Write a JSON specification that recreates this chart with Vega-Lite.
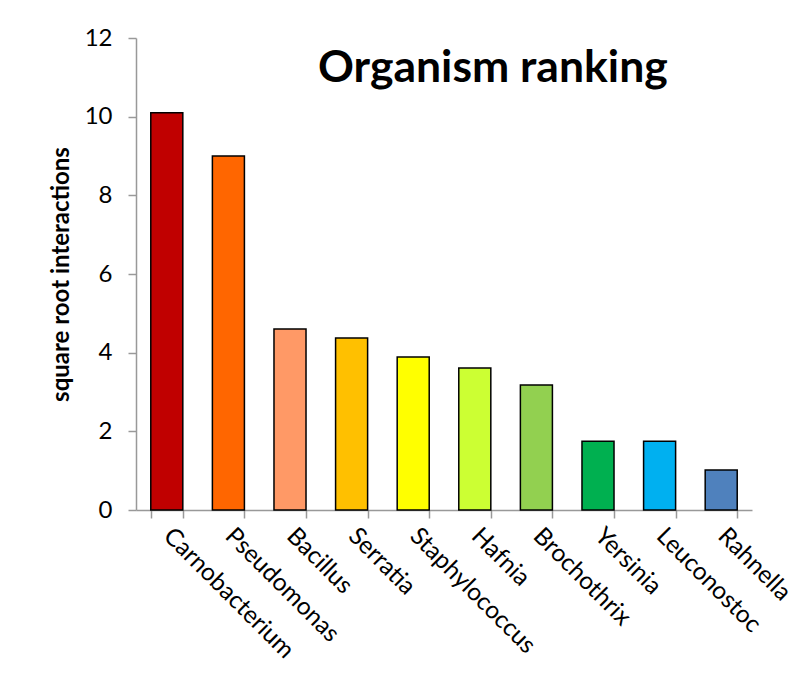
{
  "$schema": "https://vega.github.io/schema/vega-lite/v6.json",
  "autosize": "none",
  "padding": {"left": 136, "top": 38, "right": 44, "bottom": 174},
  "width": 616,
  "height": 472,
  "background": "white",
  "config": {"view": {"stroke": null}, "font": "Lato"},
  "title": {
    "text": "Organism ranking",
    "anchor": "start",
    "frame": "group",
    "offset": 0,
    "dx": 182,
    "dy": 100,
    "baseline": "alphabetic",
    "fontSize": 44.5,
    "fontWeight": "bold",
    "font": "Lato",
    "color": "black"
  },
  "data": {
    "values": [
      {"organism": "Carnobacterium", "value": 10.1, "color": "#C00000"},
      {"organism": "Pseudomonas", "value": 9.0, "color": "#FF6600"},
      {"organism": "Bacillus", "value": 4.6, "color": "#FF9966"},
      {"organism": "Serratia", "value": 4.37, "color": "#FFC000"},
      {"organism": "Staphylococcus", "value": 3.89, "color": "#FFFF00"},
      {"organism": "Hafnia", "value": 3.61, "color": "#CCFF33"},
      {"organism": "Brochothrix", "value": 3.18, "color": "#92D050"},
      {"organism": "Yersinia", "value": 1.75, "color": "#00B050"},
      {"organism": "Leuconostoc", "value": 1.75, "color": "#00B0F0"},
      {"organism": "Rahnella", "value": 1.02, "color": "#4F81BD"}
    ]
  },
  "mark": {"type": "bar", "stroke": "black", "strokeWidth": 1.5},
  "encoding": {
    "x": {
      "field": "organism",
      "type": "nominal",
      "sort": null,
      "scale": {"paddingInner": 0.48, "paddingOuter": 0.24},
      "axis": {
        "title": null,
        "labelAngle": 45,
        "labelAlign": "left",
        "labelBaseline": "middle",
        "labelFontSize": 24.5,
        "labelColor": "black",
        "labelPadding": 14,
        "tickBand": "extent",
        "tickSize": 8,
        "tickColor": "#999999",
        "domainColor": "#999999",
        "tickWidth": 1.5,
        "domainWidth": 1.5,
        "labelFont": "Lato"
      }
    },
    "y": {
      "field": "value",
      "type": "quantitative",
      "scale": {"domain": [0, 12]},
      "axis": {
        "title": "square root interactions",
        "titleFontSize": 24,
        "titleFontWeight": "bold",
        "titleColor": "black",
        "titlePadding": 11,
        "values": [0, 2, 4, 6, 8, 10, 12],
        "grid": false,
        "labelFontSize": 24,
        "labelColor": "black",
        "labelPadding": 16,
        "tickSize": 8,
        "tickColor": "#999999",
        "domainColor": "#999999",
        "tickWidth": 1.5,
        "domainWidth": 1.5,
        "labelFont": "Lato",
        "titleFont": "Lato"
      }
    },
    "fill": {"field": "color", "type": "nominal", "scale": null, "legend": null}
  }
}
